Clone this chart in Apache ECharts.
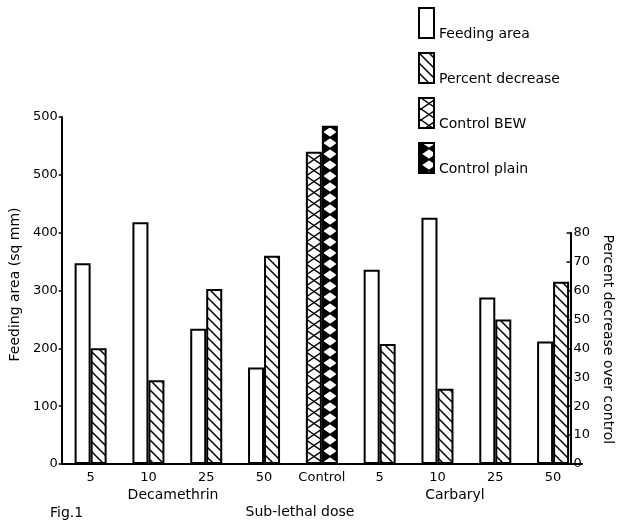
<!DOCTYPE html>
<html>
<head>
<meta charset="utf-8">
<script src="https://cdn.jsdelivr.net/npm/echarts@6/dist/echarts.min.js"></script>
<style>
  html, body { margin: 0; padding: 0; background: #fff; }
  #chart { width: 623px; height: 527px; }
</style>
</head>
<body>
<div id="chart"></div>
<script>
// Sub-lethal doses of the two insecticides, with the untreated control in the middle
const doses = ['5', '10', '25', '50', 'Control', '5', '10', '25', '50'];
// Feeding area in sq mm
const feedingArea = [347, 418, 234, 167, null, 336, 426, 288, 212];
// Percent decrease of feeding over control
const percentDecrease = [40, 29, 60.5, 72, null, 41.5, 26, 50, 63];
// Control feeding areas (sq mm)
const controlBEW = [null, null, null, null, 540, null, null, null, null];
const controlPlain = [null, null, null, null, 585, null, null, null, null];
// Left axis tick labels, as printed
const feedingTicks = ['0', '100', '200', '300', '400', '500', '500'];
// Right axis range shown (percent)
const percentAxisMax = 80;

const FONT = 'DejaVu Sans';
const BAR_W = 16;
const CELL_H = 11;
const GRID = { left: 61, right: 41, top: 117, bottom: 63 };
const FEED_MAX = 600;
const PCT_PER_FEED = 5; // 10 % of decrease spans the same height as 50 sq mm
const plotH = 527 - GRID.top - GRID.bottom;
const pctGridTop = GRID.top + plotH * (1 - (percentAxisMax * PCT_PER_FEED) / FEED_MAX);

function hatchTile() {
  const s = 10;
  const c = document.createElement('canvas');
  c.width = s; c.height = s;
  const g = c.getContext('2d');
  g.fillStyle = '#fff';
  g.fillRect(0, 0, s, s);
  g.strokeStyle = '#000';
  g.lineWidth = 1.5;
  g.beginPath();
  [[-s, 0], [0, 0], [0, -s]].forEach(([x, y]) => {
    g.moveTo(x - 1, y - 1);
    g.lineTo(x + s + 1, y + s + 1);
  });
  g.stroke();
  return c;
}

function crossTile(offsetX, filled) {
  const w = BAR_W, h = CELL_H;
  const c = document.createElement('canvas');
  c.width = w; c.height = h;
  const g = c.getContext('2d');
  g.fillStyle = '#fff';
  g.fillRect(0, 0, w, h);
  [offsetX - w, offsetX].forEach(dx => {
    if (filled) {
      g.fillStyle = '#000';
      g.beginPath();
      g.moveTo(dx, 0); g.lineTo(dx + w / 2, h / 2); g.lineTo(dx, h); g.closePath();
      g.moveTo(dx + w, 0); g.lineTo(dx + w / 2, h / 2); g.lineTo(dx + w, h); g.closePath();
      g.fill();
    }
    g.strokeStyle = '#000';
    g.lineWidth = 1.4;
    g.beginPath();
    g.moveTo(dx, 0); g.lineTo(dx + w, h);
    g.moveTo(dx + w, 0); g.lineTo(dx, h);
    g.stroke();
  });
  return c;
}

const pattern = (canvas) => ({ image: canvas, repeat: 'repeat' });
const mod = (a, n) => ((Math.round(a) % n) + n) % n;

const LEGEND_LEFT = 418;
const border = { borderColor: '#000', borderWidth: 2 };
const textFont = '14px "DejaVu Sans"';

function buildOption(barOffset) {
  const legendOffset = mod(LEGEND_LEFT, BAR_W);
  return {
    animation: false,
    backgroundColor: '#fff',
    textStyle: { fontFamily: FONT, color: '#000' },
    legend: {
      orient: 'vertical',
      left: LEGEND_LEFT,
      top: 1,
      padding: 0,
      itemWidth: 15,
      itemHeight: 30,
      itemGap: 1,
      icon: 'rect',
      selectedMode: false,
      // names sit level with the lower end of each swatch
      formatter: name => '\n' + name,
      textStyle: { fontFamily: FONT, fontSize: 14, color: '#000', lineHeight: 22 },
      data: [
        { name: 'Feeding area', itemStyle: Object.assign({ color: '#fff' }, border) },
        { name: 'Percent decrease', itemStyle: Object.assign({ color: pattern(hatchTile()) }, border) },
        { name: 'Control BEW', itemStyle: Object.assign({ color: pattern(crossTile(legendOffset, false)) }, border) },
        { name: 'Control plain', itemStyle: Object.assign({ color: pattern(crossTile(legendOffset, true)) }, border) }
      ]
    },
    grid: [
      { left: GRID.left, right: GRID.right, top: GRID.top, bottom: GRID.bottom },
      { left: GRID.left, right: GRID.right, top: pctGridTop, bottom: GRID.bottom }
    ],
    xAxis: [
      {
        type: 'category',
        gridIndex: 0,
        data: doses,
        axisLine: { lineStyle: { color: '#000', width: 2 } },
        axisTick: { show: false },
        axisLabel: { color: '#000', fontFamily: FONT, fontSize: 13, margin: 7, interval: 0 }
      },
      { type: 'value', gridIndex: 1, min: 0, max: 1, show: false }
    ],
    yAxis: [
      {
        type: 'value',
        gridIndex: 0,
        min: 0,
        max: FEED_MAX,
        interval: 100,
        name: 'Feeding area (sq mm)',
        nameLocation: 'middle',
        nameRotate: 90,
        nameGap: 34,
        nameTextStyle: { color: '#000', fontFamily: FONT, fontSize: 14, padding: [0, 0, 0, 12] },
        axisLine: { show: true, onZero: false, lineStyle: { color: '#000', width: 2 } },
        axisTick: { show: true, length: 3, lineStyle: { color: '#000', width: 1.5 } },
        axisLabel: {
          color: '#000', fontFamily: FONT, fontSize: 13, margin: 4,
          formatter: v => feedingTicks[Math.round(v / 100)]
        },
        splitLine: { show: false }
      },
      {
        type: 'value',
        gridIndex: 0,
        position: 'right',
        min: 0,
        max: FEED_MAX / PCT_PER_FEED,
        show: false
      },
      {
        type: 'value',
        gridIndex: 1,
        position: 'right',
        min: 0,
        max: percentAxisMax,
        interval: 10,
        name: 'Percent decrease over control',
        nameLocation: 'middle',
        nameRotate: -90,
        nameGap: 22,
        nameTextStyle: { color: '#000', fontFamily: FONT, fontSize: 14, padding: [0, 18, 0, 0] },
        axisLine: { show: true, onZero: false, lineStyle: { color: '#000', width: 2 } },
        axisTick: { show: true, inside: true, length: 4, lineStyle: { color: '#000', width: 1.5 } },
        axisLabel: { color: '#000', fontFamily: FONT, fontSize: 13, margin: 3 },
        splitLine: { show: false }
      }
    ],
    series: [
      {
        name: 'Feeding area', type: 'bar', stack: 'left', xAxisIndex: 0, yAxisIndex: 0,
        data: feedingArea, barWidth: BAR_W,
        itemStyle: Object.assign({ color: '#fff' }, border)
      },
      {
        name: 'Percent decrease', type: 'bar', stack: 'right', xAxisIndex: 0, yAxisIndex: 1,
        data: percentDecrease, barWidth: BAR_W, barGap: '0%',
        itemStyle: Object.assign({ color: pattern(hatchTile()) }, border)
      },
      {
        name: 'Control BEW', type: 'bar', stack: 'left', xAxisIndex: 0, yAxisIndex: 0,
        data: controlBEW, barWidth: BAR_W,
        itemStyle: Object.assign({ color: pattern(crossTile(barOffset, false)) }, border)
      },
      {
        name: 'Control plain', type: 'bar', stack: 'right', xAxisIndex: 0, yAxisIndex: 0,
        data: controlPlain, barWidth: BAR_W, barGap: '0%',
        itemStyle: Object.assign({ color: pattern(crossTile(barOffset, true)) }, border)
      }
    ],
    graphic: [
      { type: 'text', x: 173, y: 495, style: { text: 'Decamethrin', font: textFont, fill: '#000', align: 'center', verticalAlign: 'middle' } },
      { type: 'text', x: 455, y: 495, style: { text: 'Carbaryl', font: textFont, fill: '#000', align: 'center', verticalAlign: 'middle' } },
      { type: 'text', x: 300, y: 512, style: { text: 'Sub-lethal dose', font: textFont, fill: '#000', align: 'center', verticalAlign: 'middle' } },
      { type: 'text', x: 50, y: 513, style: { text: 'Fig.1', font: textFont, fill: '#000', align: 'left', verticalAlign: 'middle' } }
    ]
  };
}

const chart = echarts.init(document.getElementById('chart'), null, { renderer: 'canvas' });
chart.setOption(buildOption(0));
// Align the cross pattern with the left edge of the control bars
const controlX = chart.convertToPixel({ xAxisIndex: 0 }, doses.indexOf('Control'));
chart.setOption(buildOption(mod(controlX - BAR_W, BAR_W)), true);
</script>
</body>
</html>
